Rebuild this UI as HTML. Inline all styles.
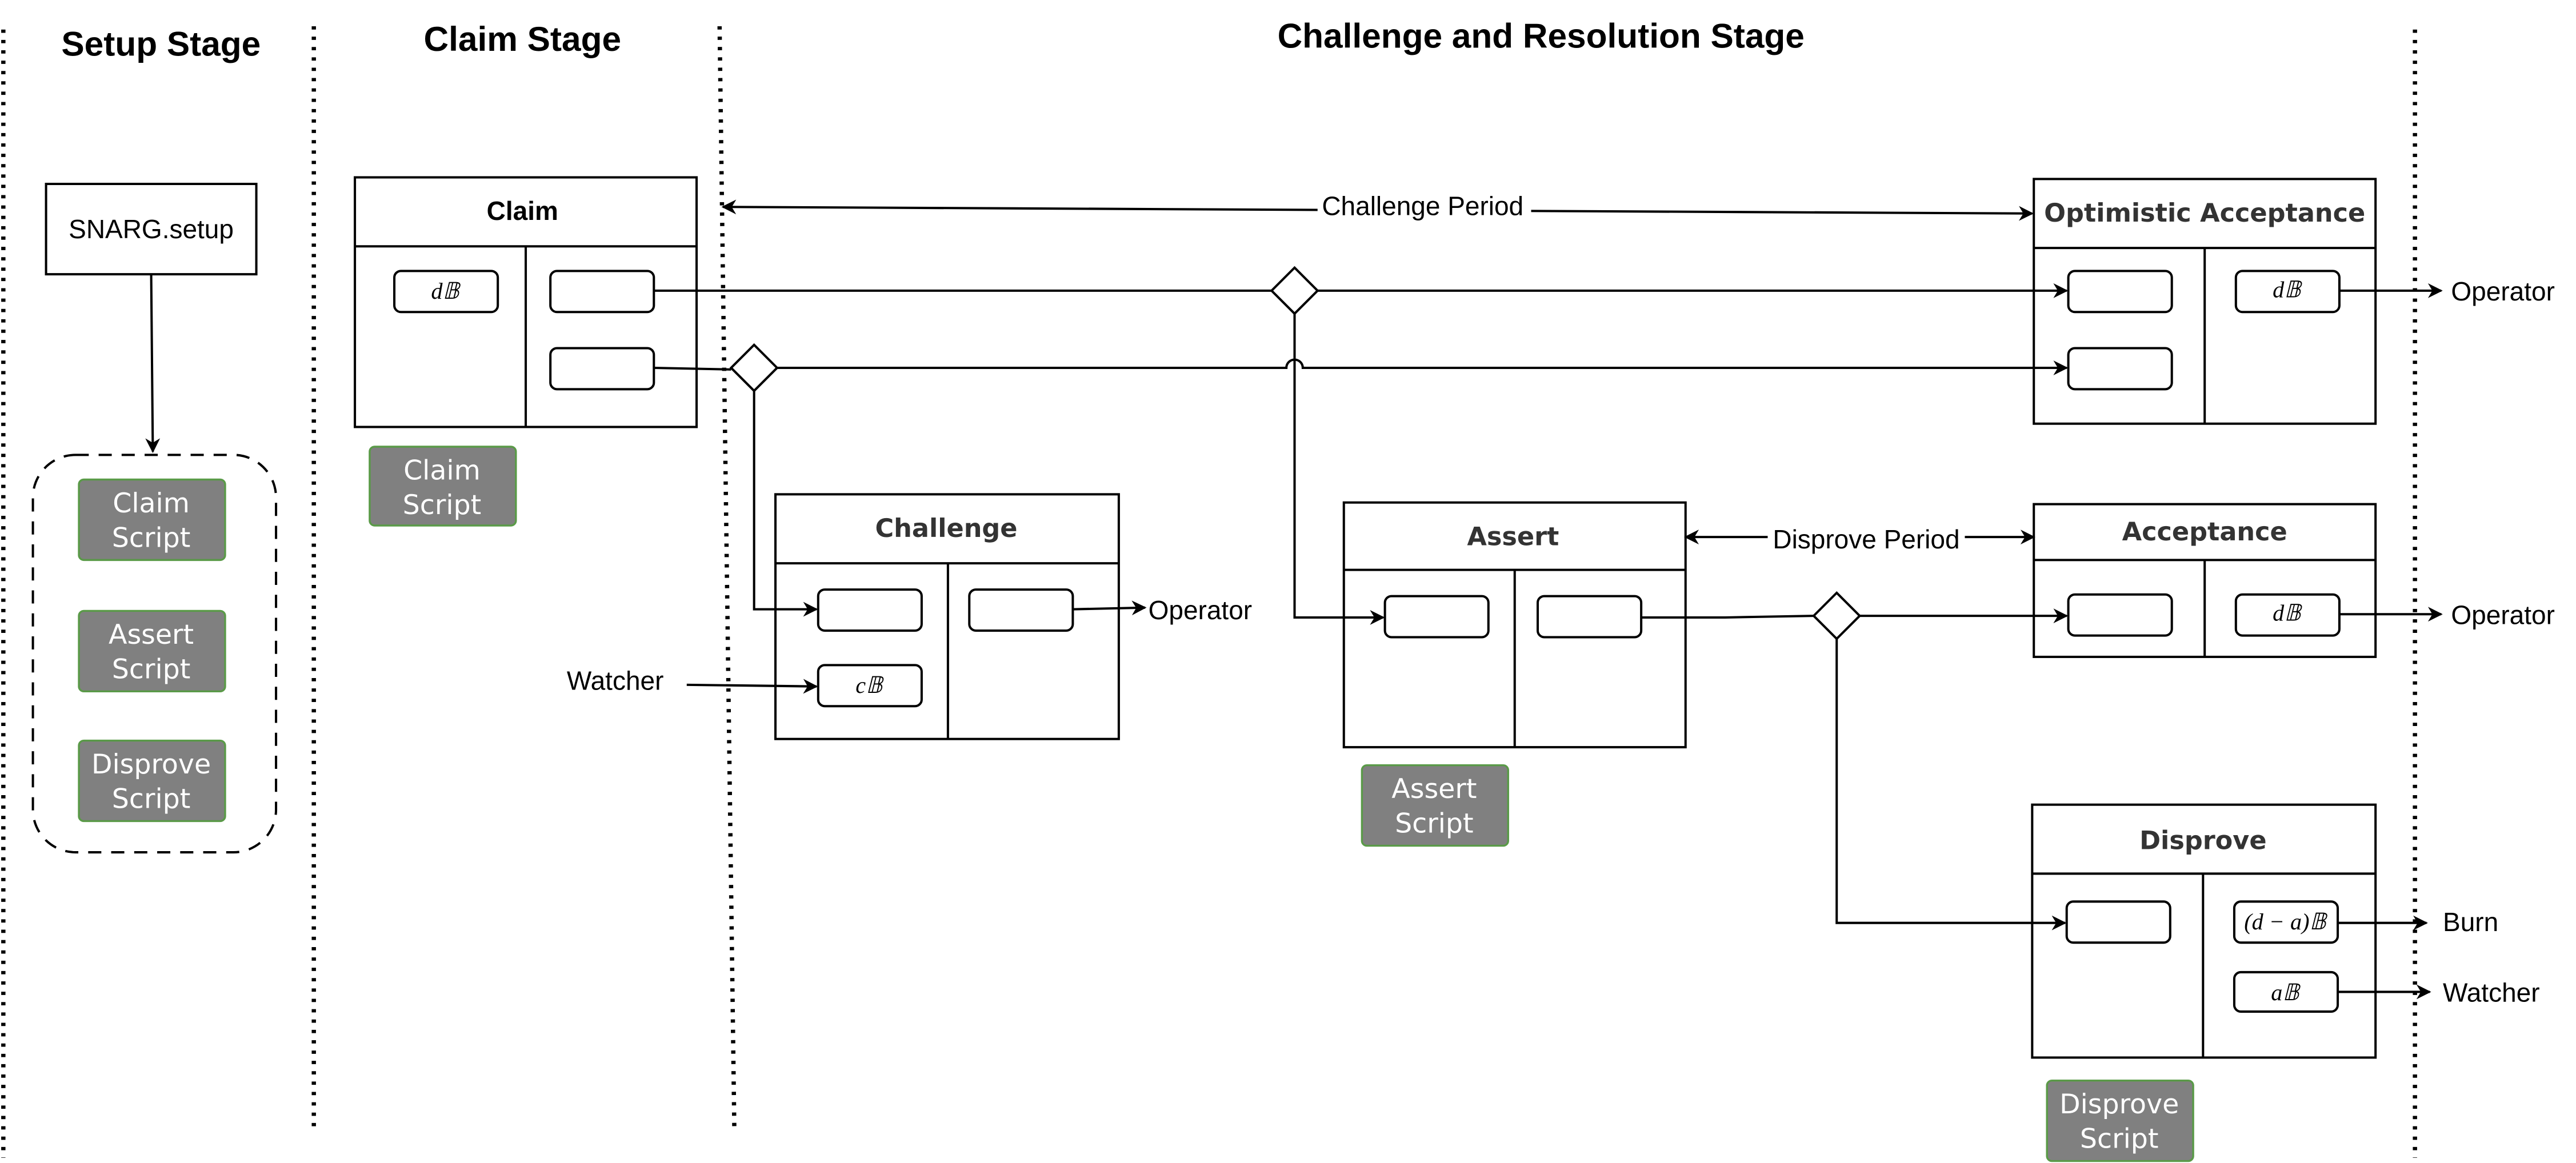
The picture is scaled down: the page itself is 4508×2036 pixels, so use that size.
<!DOCTYPE html>
<html><head><meta charset="utf-8"><style>
html,body{margin:0;padding:0;background:#fff;}
svg{display:block}
.h{font-family:"Liberation Sans",sans-serif;font-weight:bold;font-size:21px;fill:#000}
.t{font-family:"Liberation Sans",sans-serif;font-size:16px;fill:#000}
.bt{font-family:"DejaVu Sans",sans-serif;font-weight:bold;font-size:15.5px;fill:#333}
.sc{font-family:"DejaVu Sans",sans-serif;font-size:16.5px;fill:#fff}
.m{font-family:"Liberation Serif",serif;font-style:italic;font-size:14px;fill:#000}
</style></head><body>
<svg width="4508" height="2036" viewBox="0 0 1568 708.2" xmlns="http://www.w3.org/2000/svg">
<defs>
<marker id="a" viewBox="0 0 10 10" refX="9" refY="5" markerWidth="9" markerHeight="9" markerUnits="userSpaceOnUse" orient="auto-start-reverse">
<path d="M0,0 L10,5 L0,10 L3,5 Z" fill="#000"/></marker>
</defs>
<g stroke="#000" stroke-width="2.6" stroke-dasharray="2,4.3" fill="none">
<line x1="2" y1="18" x2="2" y2="705"/>
<line x1="191" y1="16" x2="191" y2="690"/>
<line x1="438" y1="16" x2="447" y2="690"/>
<line x1="1470" y1="18" x2="1470" y2="705"/>
</g>
<text class="h" x="98" y="34" text-anchor="middle">Setup Stage</text>
<text class="h" x="318" y="31" text-anchor="middle">Claim Stage</text>
<text class="h" x="938" y="29" text-anchor="middle">Challenge and Resolution  Stage</text>

<g stroke="#000" stroke-width="1.4" fill="none">
<rect x="28" y="112" width="128" height="55" fill="#fff"/>
<line x1="92" y1="167" x2="93" y2="275" marker-end="url(#a)"/>
<rect x="20" y="277" width="148" height="242" rx="26" stroke-dasharray="8,6"/>
<rect x="216" y="108" width="208" height="152"/><line x1="216" y1="150" x2="424" y2="150"/><line x1="320" y1="150" x2="320" y2="260"/>
<rect x="240" y="165" width="63" height="25" rx="4"/><rect x="335" y="165" width="63" height="25" rx="4"/><rect x="335" y="212" width="63" height="25" rx="4"/>
<rect x="1238" y="109" width="208" height="149"/><line x1="1238" y1="151" x2="1446" y2="151"/><line x1="1342" y1="151" x2="1342" y2="258"/>
<rect x="1259" y="165" width="63" height="25" rx="4"/><rect x="1259" y="212" width="63" height="25" rx="4"/><rect x="1361" y="165" width="63" height="25" rx="4"/>
<rect x="472" y="301" width="209" height="149"/><line x1="472" y1="343" x2="681" y2="343"/><line x1="577" y1="343" x2="577" y2="450"/>
<rect x="498" y="359" width="63" height="25" rx="4"/><rect x="590" y="359" width="63" height="25" rx="4"/><rect x="498" y="405" width="63" height="25" rx="4"/>
<rect x="818" y="306" width="208" height="149"/><line x1="818" y1="347" x2="1026" y2="347"/><line x1="922" y1="347" x2="922" y2="455"/>
<rect x="843" y="363" width="63" height="25" rx="4"/><rect x="936" y="363" width="63" height="25" rx="4"/>
<rect x="1238" y="307" width="208" height="93"/><line x1="1238" y1="341" x2="1446" y2="341"/><line x1="1342" y1="341" x2="1342" y2="400"/>
<rect x="1259" y="362" width="63" height="25" rx="4"/><rect x="1361" y="362" width="63" height="25" rx="4"/>
<rect x="1237" y="490" width="209" height="154"/><line x1="1237" y1="532" x2="1446" y2="532"/><line x1="1341" y1="532" x2="1341" y2="644"/>
<rect x="1258" y="549" width="63" height="25" rx="4"/><rect x="1360" y="549" width="63" height="25" rx="4"/><rect x="1360" y="592" width="63" height="24" rx="4"/>

<line x1="440" y1="126" x2="1237" y2="130" marker-start="url(#a)" marker-end="url(#a)"/>
<line x1="398" y1="177" x2="774" y2="177"/>
<line x1="802" y1="177" x2="1258" y2="177" marker-end="url(#a)"/>
<path d="M788,191 V376 H842" marker-end="url(#a)"/>
<line x1="398" y1="224" x2="445" y2="225"/>
<path d="M473,224 H783 A5,5 0 0 1 793,224 H1258" marker-end="url(#a)"/>
<path d="M459,238 V371 H497" marker-end="url(#a)"/>
<line x1="653" y1="371" x2="697" y2="370" marker-end="url(#a)"/>
<line x1="418" y1="417" x2="497" y2="418" marker-end="url(#a)"/>
<path d="M999,376 H1050 L1104,375"/>
<line x1="1132" y1="375" x2="1258" y2="375" marker-end="url(#a)"/>
<path d="M1118,389 V562 H1257" marker-end="url(#a)"/>
<line x1="1026" y1="327" x2="1238" y2="327" marker-start="url(#a)" marker-end="url(#a)"/>
<line x1="1424" y1="177" x2="1486" y2="177" marker-end="url(#a)"/>
<line x1="1424" y1="374" x2="1486" y2="374" marker-end="url(#a)"/>
<line x1="1423" y1="562" x2="1477" y2="562" marker-end="url(#a)"/>
<line x1="1423" y1="604" x2="1479" y2="604" marker-end="url(#a)"/>
<path d="M788,163 L802,177 L788,191 L774,177 Z" fill="#fff"/>
<path d="M459,210 L473,224 L459,238 L445,224 Z" fill="#fff"/>
<path d="M1118,361 L1132,375 L1118,389 L1104,375 Z" fill="#fff"/>
</g>

<rect x="802" y="116" width="130" height="19" fill="#fff"/>
<text class="t" x="866" y="131" text-anchor="middle">Challenge Period</text>
<rect x="1076" y="319" width="120" height="19" fill="#fff"/>
<text class="t" x="1136" y="334" text-anchor="middle">Disprove Period</text>

<text class="t" x="92" y="145" text-anchor="middle">SNARG.setup</text>
<text class="h" x="318" y="134" text-anchor="middle" style="font-size:16px">Claim</text>
<text class="bt" x="1342" y="135" text-anchor="middle">Optimistic Acceptance</text>
<text class="bt" x="576" y="327" text-anchor="middle">Challenge</text>
<text class="bt" x="921" y="332" text-anchor="middle">Assert</text>
<text class="bt" x="1342" y="329" text-anchor="middle">Acceptance</text>
<text class="bt" x="1341" y="517" text-anchor="middle">Disprove</text>

<text class="m" x="271" y="182" text-anchor="middle">d𝔹</text>
<text class="m" x="1392" y="181" text-anchor="middle">d𝔹</text>
<text class="m" x="1392" y="378" text-anchor="middle">d𝔹</text>
<text class="m" x="529" y="422" text-anchor="middle">c𝔹</text>
<text class="m" x="1391" y="566" text-anchor="middle">(d − a)𝔹</text>
<text class="m" x="1391" y="609" text-anchor="middle">a𝔹</text>

<text class="t" x="699" y="377">Operator</text>
<text class="t" x="345" y="420">Watcher</text>
<text class="t" x="1492" y="183">Operator</text>
<text class="t" x="1492" y="380">Operator</text>
<text class="t" x="1487" y="567">Burn</text>
<text class="t" x="1487" y="610">Watcher</text>

<g stroke="#5a9a48" stroke-width="1.2" fill="#808080">
<rect x="48" y="292" width="89" height="49" rx="3"/>
<rect x="48" y="372" width="89" height="49" rx="3"/>
<rect x="48" y="451" width="89" height="49" rx="3"/>
<rect x="225" y="272" width="89" height="48" rx="3"/>
<rect x="829" y="466" width="89" height="49" rx="3"/>
<rect x="1246" y="658" width="89" height="49" rx="3"/>
</g>
<g class="sc" text-anchor="middle">
<text x="92" y="312">Claim</text><text x="92" y="333">Script</text>
<text x="92" y="392">Assert</text><text x="92" y="413">Script</text>
<text x="92" y="471">Disprove</text><text x="92" y="492">Script</text>
<text x="269" y="292">Claim</text><text x="269" y="313">Script</text>
<text x="873" y="486">Assert</text><text x="873" y="507">Script</text>
<text x="1290" y="678">Disprove</text><text x="1290" y="699">Script</text>
</g>
</svg>
</body></html>
